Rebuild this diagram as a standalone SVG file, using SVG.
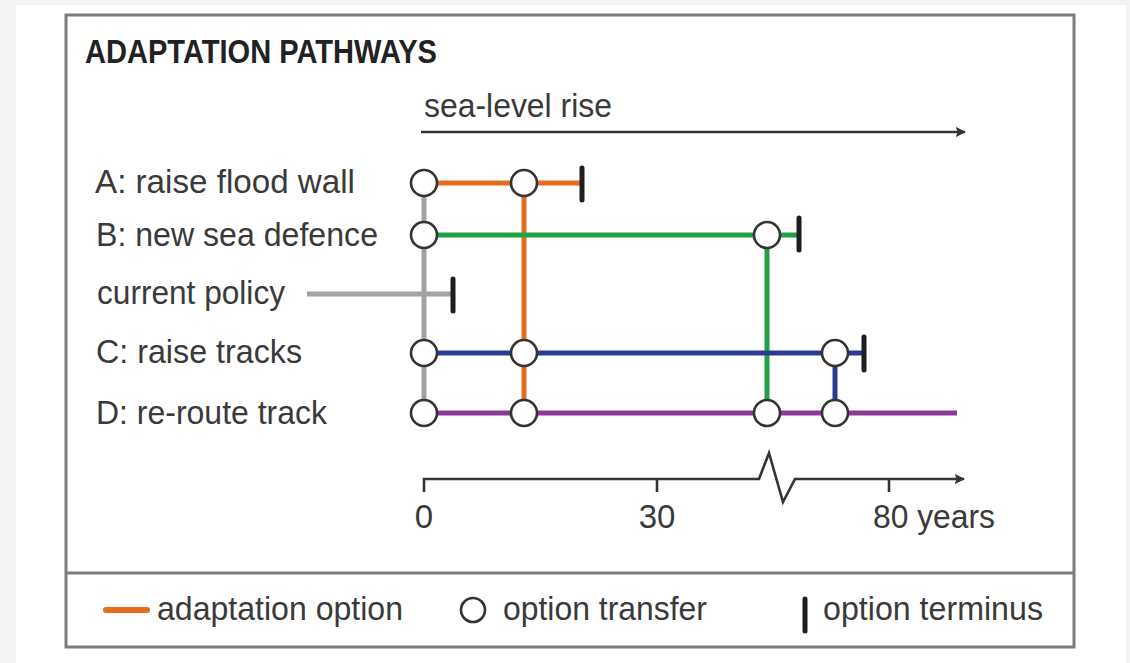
<svg xmlns="http://www.w3.org/2000/svg" width="1130" height="663" viewBox="0 0 1130 663">
  <defs>
    <style>
      .lbl { font-family: "Liberation Sans", Arial, sans-serif; font-size: 33px; fill: #3a3a3a; }
      .title { font-family: "Liberation Sans", Arial, sans-serif; font-size: 34px; font-weight: bold; fill: #222; }
      .path { fill: none; stroke-width: 5; stroke-linecap: butt; }
      .orange { stroke: #e46d22; }
      .green { stroke: #22a044; }
      .blue { stroke: #2b3a92; }
      .purple { stroke: #8b3b97; }
      .gray { stroke: #a3a3a3; }
      .node { fill: #ffffff; stroke: #333333; stroke-width: 2.6; }
      .term { stroke: #1e1e1e; stroke-width: 5; stroke-linecap: round; fill: none; }
      .axis { stroke: #333333; stroke-width: 2.6; fill: none; }
    </style>
    <marker id="arr" viewBox="0 0 10 10" refX="9" refY="5" markerWidth="4" markerHeight="4" orient="auto" markerUnits="strokeWidth">
      <path d="M0,0 L10,5 L0,10 L2,5 Z" fill="#333333"/>
    </marker>
  </defs>

  <rect x="0" y="0" width="1130" height="663" fill="#f3f3f3"/>
  <rect x="16" y="5" width="1110" height="658" fill="#ffffff"/>

  <!-- frame -->
  <g id="frame">
    <rect x="66" y="15" width="1008" height="632" fill="#ffffff" stroke="#7c7c7c" stroke-width="3"/>
    <line x1="66" y1="573" x2="1074" y2="573" stroke="#7c7c7c" stroke-width="3"/>
  </g>

  <text class="title" x="85" y="63" textLength="352" lengthAdjust="spacingAndGlyphs">ADAPTATION PATHWAYS</text>

  <!-- sea-level rise -->
  <g id="sea-level">
    <text class="lbl" x="424" y="117" textLength="188" lengthAdjust="spacingAndGlyphs">sea-level rise</text>
    <line class="axis" x1="421" y1="132" x2="965" y2="132" marker-end="url(#arr)"/>
  </g>

  <!-- row labels -->
  <g id="labels">
    <text class="lbl" x="95" y="193" textLength="260" lengthAdjust="spacingAndGlyphs">A: raise flood wall</text>
    <text class="lbl" x="96" y="246" textLength="282" lengthAdjust="spacingAndGlyphs">B: new sea defence</text>
    <text class="lbl" x="97" y="304" textLength="188" lengthAdjust="spacingAndGlyphs">current policy</text>
    <text class="lbl" x="96" y="363" textLength="206" lengthAdjust="spacingAndGlyphs">C: raise tracks</text>
    <text class="lbl" x="96" y="424" textLength="231" lengthAdjust="spacingAndGlyphs">D: re-route track</text>
  </g>

  <!-- connectors -->
  <g id="connectors">
    <line class="path gray" x1="307" y1="294" x2="453" y2="294"/>
    <line class="path gray" x1="424" y1="183" x2="424" y2="413"/>
    <line class="path orange" x1="524" y1="183" x2="524" y2="413"/>
    <line class="path orange" x1="424" y1="183" x2="582" y2="183"/>
    <line class="path green" x1="424" y1="235" x2="799" y2="235"/>
    <line class="path green" x1="767" y1="235" x2="767" y2="413"/>
    <line class="path blue" x1="424" y1="353" x2="864" y2="353"/>
    <line class="path blue" x1="835" y1="353" x2="835" y2="413"/>
    <line class="path purple" x1="424" y1="413" x2="957" y2="413"/>
  </g>

  <!-- termini -->
  <g id="termini">
    <line class="term" x1="582" y1="168" x2="582" y2="200"/>
    <line class="term" x1="799" y1="218" x2="799" y2="250"/>
    <line class="term" x1="453" y1="279" x2="453" y2="311"/>
    <line class="term" x1="864" y1="337" x2="864" y2="370"/>
  </g>

  <!-- transfer nodes -->
  <g id="nodeA0"><circle class="node" cx="424" cy="183" r="13"/></g>
  <g id="nodeA1"><circle class="node" cx="524" cy="183" r="13"/></g>
  <g id="nodeB0"><circle class="node" cx="424" cy="235" r="13"/></g>
  <g id="nodeB3"><circle class="node" cx="767" cy="235" r="13"/></g>
  <g id="nodeC0"><circle class="node" cx="424" cy="353" r="13"/></g>
  <g id="nodeC1"><circle class="node" cx="524" cy="353" r="13"/></g>
  <g id="nodeC4"><circle class="node" cx="835" cy="353" r="13"/></g>
  <g id="nodeD0"><circle class="node" cx="424" cy="413" r="13"/></g>
  <g id="nodeD1"><circle class="node" cx="524" cy="413" r="13"/></g>
  <g id="nodeD3"><circle class="node" cx="767" cy="413" r="13"/></g>
  <g id="nodeD4"><circle class="node" cx="835" cy="413" r="13"/></g>

  <!-- time axis -->
  <g id="time-axis">
    <path class="axis" d="M424,492 L424,479 L759,479 L769,453 L783,502 L795,479 L964,479" marker-end="url(#arr)"/>
    <line class="axis" x1="657" y1="479" x2="657" y2="492"/>
    <line class="axis" x1="889" y1="479" x2="889" y2="492"/>
    <text class="lbl" x="424" y="528" text-anchor="middle">0</text>
    <text class="lbl" x="657" y="528" text-anchor="middle">30</text>
    <text class="lbl" x="873" y="528" textLength="122" lengthAdjust="spacingAndGlyphs">80 years</text>
  </g>

  <!-- legend -->
  <g id="legend">
    <line x1="106" y1="610" x2="147" y2="610" stroke="#e46d22" stroke-width="6" stroke-linecap="round"/>
    <text class="lbl" x="157" y="620" textLength="246" lengthAdjust="spacingAndGlyphs">adaptation option</text>
    <circle class="node" cx="473" cy="610" r="12"/>
    <text class="lbl" x="503" y="620" textLength="204" lengthAdjust="spacingAndGlyphs">option transfer</text>
    <line class="term" x1="805" y1="599" x2="805" y2="631"/>
    <text class="lbl" x="823" y="620" textLength="220" lengthAdjust="spacingAndGlyphs">option terminus</text>
  </g>
</svg>
